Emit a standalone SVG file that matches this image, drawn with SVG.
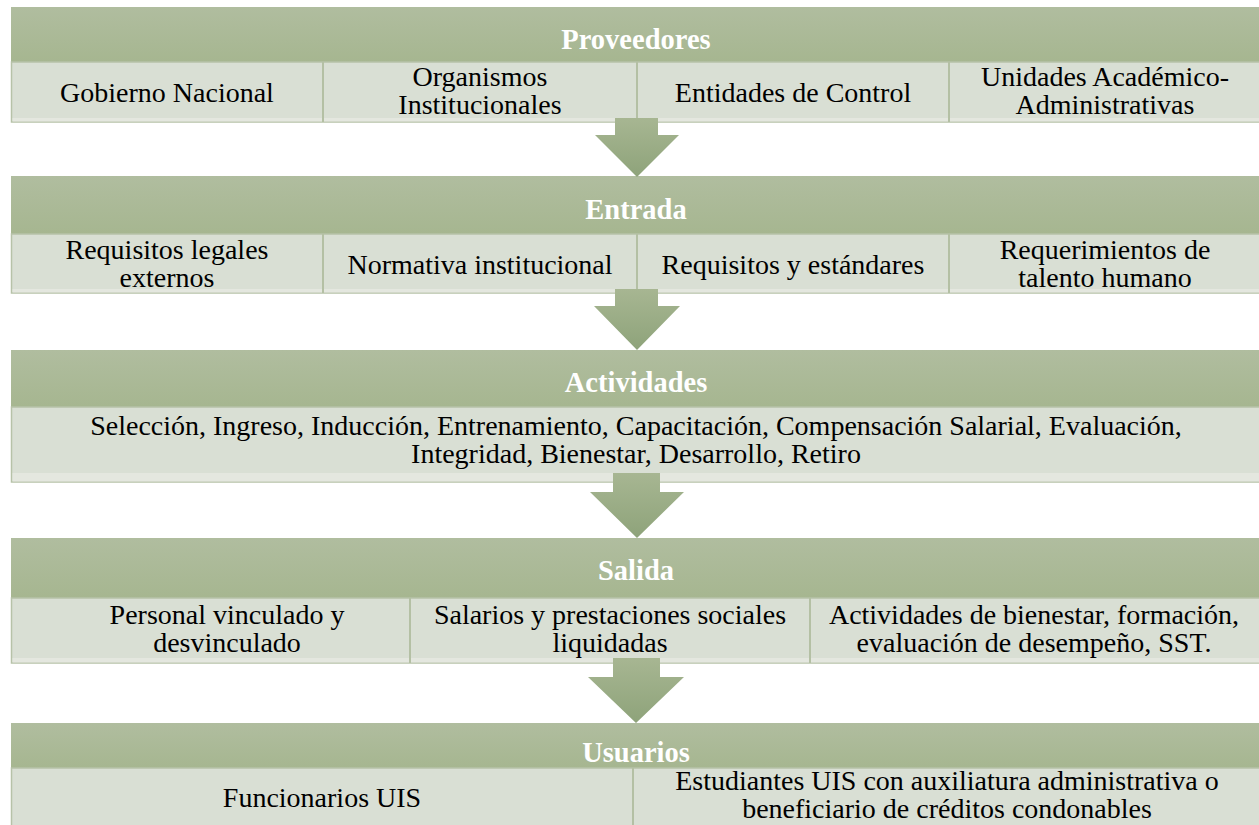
<svg xmlns="http://www.w3.org/2000/svg" width="1259" height="825" viewBox="0 0 1259 825">
<defs>
<linearGradient id="hg" x1="0" y1="0" x2="0" y2="1"><stop offset="0" stop-color="#b0bd9f"/><stop offset="1" stop-color="#a6b690"/></linearGradient>
<linearGradient id="ag" x1="0" y1="0" x2="0" y2="1"><stop offset="0" stop-color="#a7b692"/><stop offset="1" stop-color="#8ea37a"/></linearGradient>
<style>
.hd{fill:url(#hg)}
.bd{fill:#d9dfd4;stroke:#b7c2a8;stroke-width:1.5}
.st{fill:#e4e7df}
.dv{stroke:#b4c0a4;stroke-width:2}
.ht{font-family:"Liberation Serif","Times New Roman",serif;font-weight:bold;font-size:28.5px;fill:#fff;text-anchor:middle}
.bt{font-family:"Liberation Serif","Times New Roman",serif;font-size:28px;fill:#000;text-anchor:middle}
.ar{fill:url(#ag)}
</style>
</defs>
<rect width="1259" height="825" fill="#fff"/>

<g id="proveedores">
<rect class="hd" x="11" y="7" width="1248" height="55"/>
<rect class="bd" x="11.5" y="62" width="1250" height="60"/>
<rect class="st" x="12.5" y="118" width="1247" height="3.5"/>
<line class="dv" x1="323" y1="62" x2="323" y2="122"/>
<line class="dv" x1="637" y1="62" x2="637" y2="122"/>
<line class="dv" x1="949" y1="62" x2="949" y2="122"/>
<text class="ht" x="636" y="49">Proveedores</text>
<text class="bt" x="167" y="102">Gobierno Nacional</text>
<text class="bt" x="480" y="86">Organismos</text>
<text class="bt" x="480" y="114">Institucionales</text>
<text class="bt" x="793" y="102">Entidades de Control</text>
<text class="bt" x="1105" y="86">Unidades Académico-</text>
<text class="bt" x="1105" y="114">Administrativas</text>
</g>

<g id="entrada">
<rect class="hd" x="11" y="176" width="1248" height="58"/>
<rect class="bd" x="11.5" y="234" width="1250" height="59"/>
<rect class="st" x="12.5" y="289" width="1247" height="3.5"/>
<line class="dv" x1="323" y1="234" x2="323" y2="293"/>
<line class="dv" x1="637" y1="234" x2="637" y2="293"/>
<line class="dv" x1="949" y1="234" x2="949" y2="293"/>
<text class="ht" x="636" y="219">Entrada</text>
<text class="bt" x="167" y="259">Requisitos legales</text>
<text class="bt" x="167" y="287">externos</text>
<text class="bt" x="480" y="274">Normativa institucional</text>
<text class="bt" x="793" y="274">Requisitos y estándares</text>
<text class="bt" x="1105" y="259">Requerimientos de</text>
<text class="bt" x="1105" y="287">talento humano</text>
</g>

<g id="actividades">
<rect class="hd" x="11" y="350" width="1248" height="57"/>
<rect class="bd" x="11.5" y="407" width="1250" height="75"/>
<rect class="st" x="12.5" y="473" width="1247" height="8.5"/>
<text class="ht" x="636" y="392">Actividades</text>
<text class="bt" x="636" y="435">Selección, Ingreso, Inducción, Entrenamiento, Capacitación, Compensación Salarial, Evaluación,</text>
<text class="bt" x="636" y="463">Integridad, Bienestar, Desarrollo, Retiro</text>
</g>

<g id="salida">
<rect class="hd" x="11" y="538" width="1248" height="60"/>
<rect class="bd" x="11.5" y="598" width="1250" height="65"/>
<rect class="st" x="12.5" y="658" width="1247" height="4.5"/>
<line class="dv" x1="410" y1="598" x2="410" y2="663"/>
<line class="dv" x1="810" y1="598" x2="810" y2="663"/>
<text class="ht" x="636" y="580">Salida</text>
<text class="bt" x="227" y="624">Personal vinculado y</text>
<text class="bt" x="227" y="652">desvinculado</text>
<text class="bt" x="610" y="624">Salarios y prestaciones sociales</text>
<text class="bt" x="610" y="652">liquidadas</text>
<text class="bt" x="1034" y="624">Actividades de bienestar, formación,</text>
<text class="bt" x="1034" y="652">evaluación de desempeño, SST.</text>
</g>

<g id="usuarios">
<rect class="hd" x="11" y="723" width="1248" height="45"/>
<rect class="bd" x="11.5" y="768" width="1250" height="60"/>
<line class="dv" x1="633" y1="768" x2="633" y2="825"/>
<text class="ht" x="636" y="762">Usuarios</text>
<text class="bt" x="322" y="807">Funcionarios UIS</text>
<text class="bt" x="947" y="790">Estudiantes UIS con auxiliatura administrativa o</text>
<text class="bt" x="947" y="818">beneficiario de créditos condonables</text>
</g>

<g id="connectors">
<polygon class="ar" points="615,118 658,118 658,135 679,135 637,177 595,135 615,135"/>
<polygon class="ar" points="615,289 658,289 658,306 680,306 637,350 594,306 615,306"/>
<polygon class="ar" points="613,473 660,473 660,492 684,492 637,538 590,492 613,492"/>
<polygon class="ar" points="613,658 660,658 660,677 684,677 636,723 588,677 613,677"/>
</g>
</svg>
